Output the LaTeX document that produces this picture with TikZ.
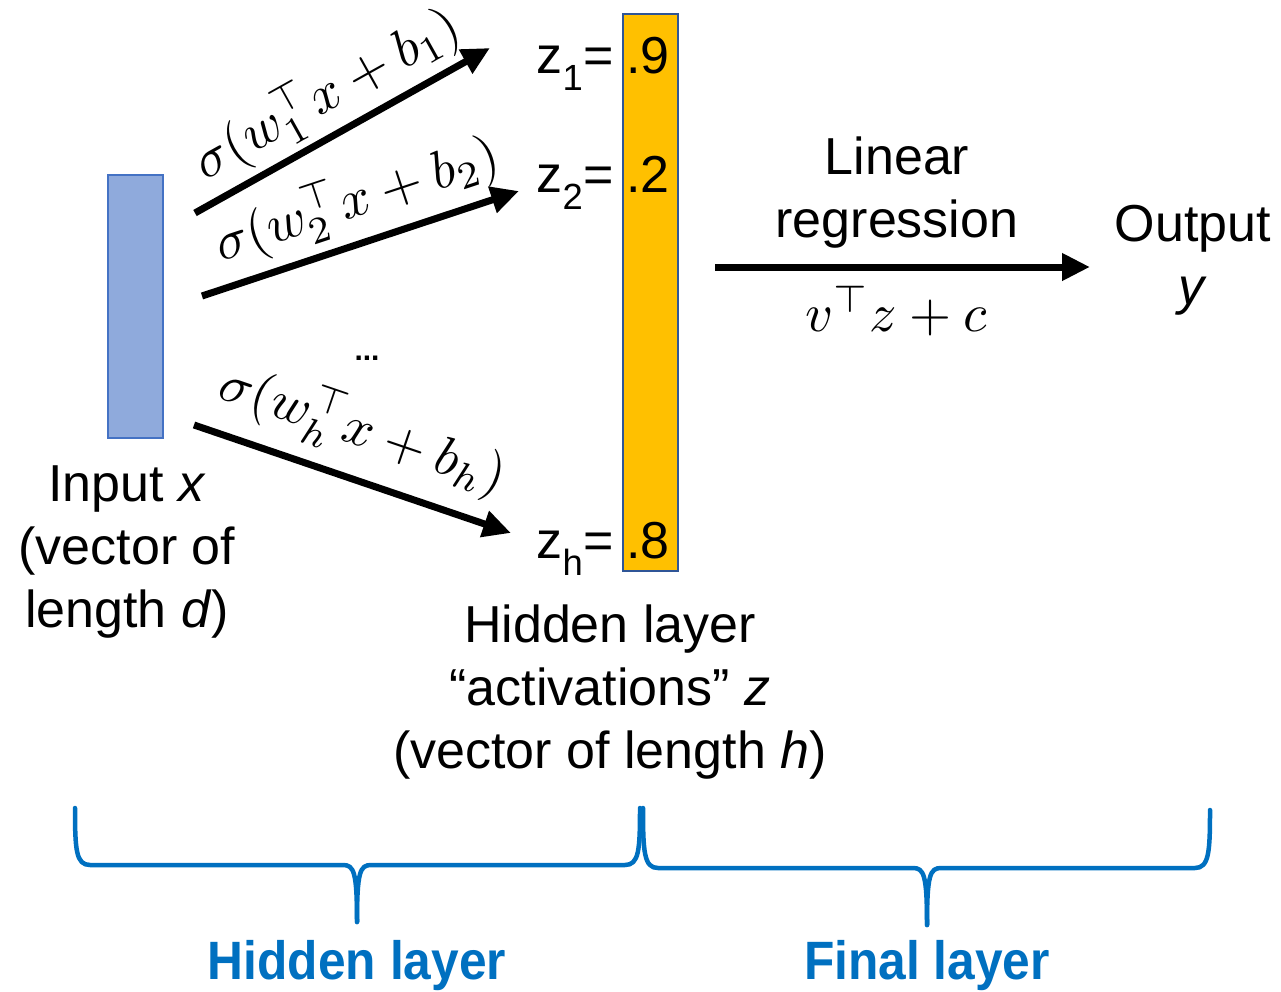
\documentclass[tikz,border=0pt]{standalone}
\usepackage[no-math]{fontspec}
\setmainfont{Liberation Sans}
\usetikzlibrary{arrows.meta}
\definecolor{inblue}{HTML}{8FAADC}
\definecolor{inborder}{HTML}{4472C4}
\definecolor{hidorange}{HTML}{FFC000}
\definecolor{hidborder}{HTML}{2F5597}
\definecolor{bracecol}{HTML}{0070C0}
\begin{document}
\begin{tikzpicture}[x=1pt,y=-1pt,
 txt/.style={font=\fontsize{52}{63}\selectfont, inner sep=0pt, align=center},
 mth/.style={font=\normalsize, inner sep=0pt, scale=5.4, transform shape},
 arr/.style={line width=7pt, -{Triangle[length=28pt,width=26pt]}},
 brace/.style={draw=bracecol, line width=4.5pt, line join=round, line cap=round},
 lbl/.style={font=\fontsize{54}{60}\selectfont\bfseries, text=bracecol, inner sep=0pt}]
\useasboundingbox (0,0) rectangle (1281,992);

% vectors
\node[draw=inborder, fill=inblue, line width=2pt, minimum width=55pt, minimum height=263pt, inner sep=0pt] (in) at (135.5,306.5) {};
\node[draw=hidborder, fill=hidorange, line width=2pt, minimum width=55pt, minimum height=557pt, inner sep=0pt] (hv) at (650.5,292.5) {};

% z labels
\node[txt, anchor=base east] (z1) at (614,74) {z\textsubscript{1}=};
\node[txt, anchor=base west] (v1) at (626,74) {.9};
\node[txt, anchor=base east] (z2) at (614,193) {z\textsubscript{2}=};
\node[txt, anchor=base west] (v2) at (626,193) {.2};
\node[txt, anchor=base east] (zh) at (614,558) {z\textsubscript{h}=};
\node[txt, anchor=base west] (vh) at (626,558) {.8};

% arrows
\coordinate (s1) at (195,213); \coordinate (t1) at (490,48);
\coordinate (s2) at (202,296); \coordinate (t2) at (519,191);
\coordinate (sh) at (194,425); \coordinate (th) at (511,533);
\draw[arr] (s1) -- (t1);
\draw[arr] (s2) -- (t2);
\draw[arr] (sh) -- (th);

\node[mth, rotate=29.2] (l1) at (327,94) {$\sigma(w_1^\top x+b_1)$};
\node[mth, rotate=18.3] (l2) at (357,200) {$\sigma(w_2^\top x+b_2)$};
\node[mth, rotate=-18.8] (lh) at (363,431) {$\sigma(w_h^\top x+b_h)$};
\node[font=\fontsize{30}{30}\selectfont\bfseries, inner sep=0pt] (dots) at (367,358) {...};

% linear regression
\coordinate (la) at (715,267); \coordinate (lb) at (1090,267);
\draw[arr] (la) -- (lb);
\node[txt] (lin) at (897,193) {Linear\\regression};
\node[mth] (vz) at (896,311) {$v^\top z+c$};
\node[txt] (out) at (1193,260) {Output\\\textit{y}};

% captions
\node[txt] (inp) at (127,552) {Input \textit{x}\\(vector of\\length \textit{d})};
\node[txt] (hid) at (610,692) {Hidden layer\\“activations” \textit{z}\\(vector of length \textit{h})};

% braces
\coordinate (b1l) at (75,808); \coordinate (b1r) at (640,808); \coordinate (b1t) at (357,922);
\draw[brace] (b1l) .. controls (75,850) and (76,865) .. (90,865) -- (343,865) .. controls (354,865) and (357,872) .. (b1t);
\draw[brace] (b1r) .. controls (640,850) and (639,865) .. (625,865) -- (371,865) .. controls (360,865) and (357,872) .. (b1t);
\coordinate (b2l) at (643,808); \coordinate (b2r) at (1210,810); \coordinate (b2t) at (927,925);
\draw[brace] (b2l) .. controls (643,852) and (644,868) .. (658,868) -- (913,868) .. controls (924,868) and (927,875) .. (b2t);
\draw[brace] (b2r) .. controls (1210,852) and (1209,868) .. (1195,868) -- (941,868) .. controls (930,868) and (927,875) .. (b2t);

\node[lbl] (hl) at (357,966) {\scalebox{0.92}[1]{Hidden layer}};
\node[lbl] (fl) at (927,966) {\scalebox{0.92}[1]{Final layer}};
\end{tikzpicture}
\end{document}
